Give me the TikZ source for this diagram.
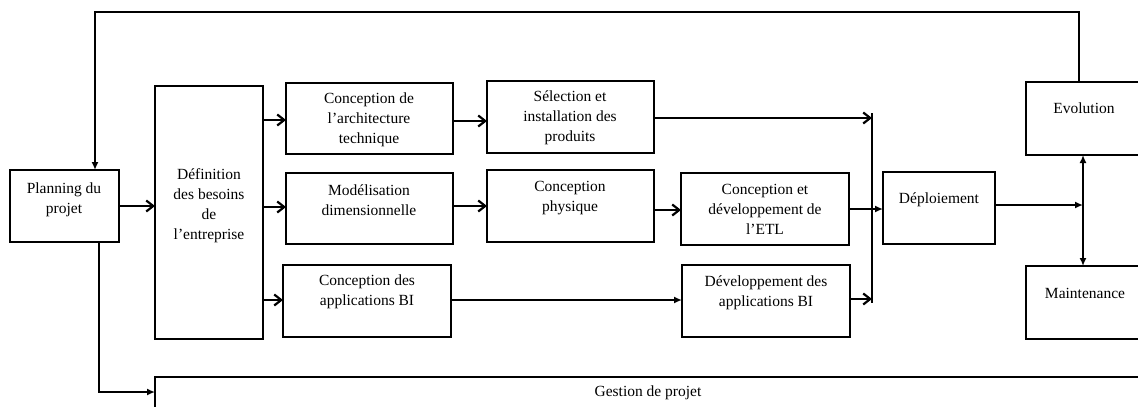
\documentclass[tikz,border=0pt]{standalone}
\usepackage{fontspec}
\setmainfont{Liberation Serif}
\usetikzlibrary{arrows.meta}
\begin{document}
\begin{tikzpicture}[x=1pt,y=-1pt,
  box/.style={draw, line width=1.1pt, inner sep=0pt, outer sep=0pt, anchor=north west},
  txt/.style={align=center, inner sep=0pt, font=\fontsize{15.5}{20}\selectfont},
  conn/.style={line width=2.2pt},
  openarr/.style={conn, -{Straight Barb[length=7pt,width=11pt,line width=2.2pt]}},
  fillarr/.style={conn, -{Latex[length=8pt,width=7pt]}},
  dblarr/.style={conn, {Latex[length=8pt,width=7pt]}-{Latex[length=8pt,width=7pt]}}]
\useasboundingbox (0,0) rectangle (1138,407);
\clip (0,0) rectangle (1138,407);
% boxes
\node[box, minimum width=109pt, minimum height=72pt] (plan) at (10,170) {};
\node[box, minimum width=108pt, minimum height=253pt] (def) at (155,86) {};
\node[box, minimum width=167pt, minimum height=71pt] (arch) at (286,83) {};
\node[box, minimum width=167pt, minimum height=72pt] (sel) at (487,81) {};
\node[box, minimum width=167pt, minimum height=71pt] (mod) at (286,173) {};
\node[box, minimum width=167pt, minimum height=72pt] (phys) at (487,170) {};
\node[box, minimum width=168pt, minimum height=72pt] (etl) at (681,173) {};
\node[box, minimum width=168pt, minimum height=72pt] (cba) at (283,265) {};
\node[box, minimum width=168pt, minimum height=72pt] (dev) at (682,265) {};
\node[box, minimum width=112pt, minimum height=72pt] (dep) at (883,172) {};
\node[box, minimum width=130pt, minimum height=73pt] (evo) at (1026,82) {};
\node[box, minimum width=130pt, minimum height=73pt] (maint) at (1026,266) {};
\node[box, minimum width=1000pt, minimum height=60pt] (gest) at (155,377) {};
% texts
\node[txt] at (64,200) {Planning du\\projet};
\node[txt] at (209,206) {Définition\\des besoins\\de\\l’entreprise};
\node[txt] at (369,120) {Conception de\\l’architecture\\technique};
\node[txt] at (570,118) {Sélection et\\installation des\\produits};
\node[txt] at (369,200) {Modélisation\\dimensionnelle};
\node[txt] at (570,198) {Conception\\physique};
\node[txt] at (765,209) {Conception et\\développement de\\l’ETL};
\node[txt] at (367,292) {Conception des\\applications BI};
\node[txt] at (766,293) {Développement des\\applications BI};
\node[txt] at (939,200) {Déploiement};
\node[txt] at (1084,108) {Evolution};
\node[txt] at (1085,293) {Maintenance};
\node[txt] at (648,393) {Gestion de projet};
% coordinates
\coordinate (bartop) at (872,113);
\coordinate (barbot) at (872,303);
\coordinate (junc) at (1083,205);
\coordinate (topright) at (1079,12);
\coordinate (botleft) at (99,392);
% connectors
\draw[openarr] (plan.east |- 0,206) -- (def.west |- 0,206);
\draw[openarr] (def.east |- 0,120) -- (arch.west |- 0,120);
\draw[openarr] (def.east |- 0,207) -- (mod.west |- 0,207);
\draw[openarr] (def.east |- 0,300) -- (cba.west |- 0,300);
\draw[openarr] (arch.east |- 0,121) -- (sel.west |- 0,121);
\draw[openarr] (mod.east |- 0,206) -- (phys.west |- 0,206);
\draw[openarr] (phys.east |- 0,210) -- (etl.west |- 0,210);
\draw[openarr] (sel.east |- 0,118) -- (bartop |- 0,118);
\draw[fillarr] (etl.east |- 0,209) -- (dep.west |- 0,209);
\draw[fillarr] (cba.east |- 0,300) -- (dev.west |- 0,300);
\draw[openarr] (dev.east |- 0,299) -- (barbot |- 0,299);
\draw[conn] (bartop) -- (barbot);
\draw[fillarr] (dep.east |- junc) -- (junc);
\draw[dblarr] (evo.south -| junc) -- (maint.north -| junc);
\draw[fillarr] (evo.north -| topright) -- (topright) -| (plan.north -| 95,0);
\draw[fillarr] (plan.south -| botleft) -- (botleft) -- (gest.west |- botleft);
\end{tikzpicture}
\end{document}
